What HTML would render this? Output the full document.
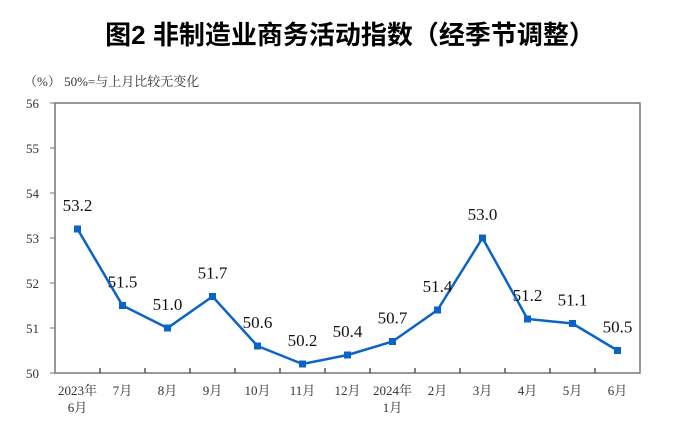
<!DOCTYPE html>
<html><head><meta charset="utf-8"><style>
body{margin:0;background:#fff;width:690px;height:428px;overflow:hidden;font-family:"Liberation Serif","Noto Serif CJK SC",serif}
</style></head><body>
<svg width="690" height="428">
<text x="350" y="44" text-anchor="middle" font-size="26" font-weight="bold" font-family="'Liberation Sans','Noto Sans CJK SC',sans-serif">图2  非制造业商务活动指数（经季节调整）</text>
<text x="24" y="86" font-size="13" fill="#333">（%） 50%=与上月比较无变化</text>
<g id="plot"></g>
</svg>
<script>
const categories=["2023年|6月","7月","8月","9月","10月","11月","12月","2024年|1月","2月","3月","4月","5月","6月"];
const values=[53.2,51.5,51.0,51.7,50.6,50.2,50.4,50.7,51.4,53.0,51.2,51.1,50.5];
const yTicks=[50,51,52,53,54,55,56];
const L=55,R=640,T=103,B=373,yMin=50,yMax=56;
const n=categories.length,step=(R-L)/n;
const xs=i=>L+step*(i+0.5);
const ys=v=>B-(v-yMin)/(yMax-yMin)*(B-T);
const ns="http://www.w3.org/2000/svg";
const g=document.getElementById('plot');
function mk(t,a){const e=document.createElementNS(ns,t);for(const k in a)e.setAttribute(k,a[k]);g.appendChild(e);return e;}
let e=mk('rect',{x:L,y:T,width:R-L,height:B-T,fill:'none',stroke:'#777','stroke-width':1.5});


yTicks.forEach(v=>{
 let t=mk('line',{x1:L-5,x2:L,y1:ys(v),y2:ys(v),stroke:'#777'});
 
 
 let l=mk('text',{x:L-16,y:ys(v)+5,'text-anchor':'end','font-size':13,fill:'#333'});l.textContent=v;
 
 
});
for(let i=1;i<n;i++){
 let t=mk('line',{x1:L+step*i,x2:L+step*i,y1:B-5,y2:B,stroke:'#555','stroke-width':1.5});
 
 
}
categories.forEach((c,i)=>{
 const parts=c.split('|');
 parts.forEach((p,j)=>{
  let l=mk('text',{x:xs(i),y:395+j*17,'text-anchor':'middle','font-size':13,fill:'#333'});l.textContent=p;
  
  
 });
});
let pl=mk('polyline',{points:values.map((v,i)=>xs(i)+','+ys(v)).join(' '),fill:'none',stroke:'#0a64c8','stroke-width':2.5});


values.forEach((v,i)=>{
 let m=mk('rect',{x:xs(i)-3.5,y:ys(v)-3.5,width:7,height:7,fill:'#0a64c8'});
 
 
 let l=mk('text',{x:xs(i),y:ys(v)-18,'text-anchor':'middle','font-size':17,fill:'#111'});l.textContent=v.toFixed(1);
 
 
});
</script>
</body></html>
